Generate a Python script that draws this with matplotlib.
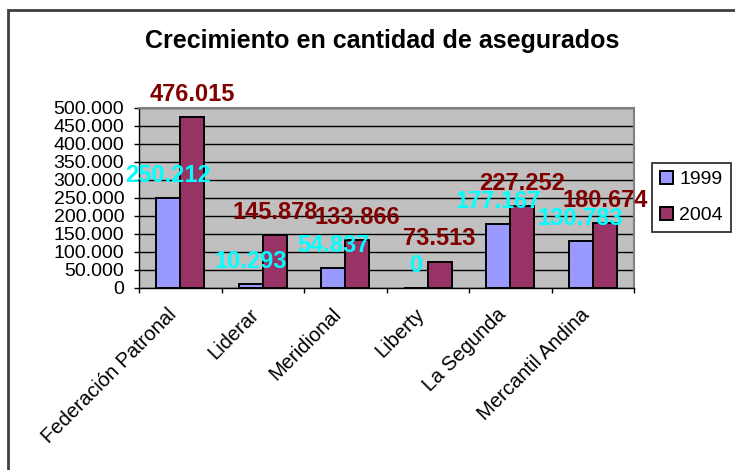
import numpy as np
import matplotlib
matplotlib.use('Agg')
import matplotlib.pyplot as plt
from matplotlib.patches import Rectangle
from matplotlib.ticker import FixedLocator, FuncFormatter

# Data ########################################################################
companies = ['Federación Patronal', 'Liderar', 'Meridional', 'Liberty',
             'La Segunda', 'Mercantil Andina']
years = ['1999', '2004']
v1999 = [250212, 10293, 54837, 0, 177167, 130783]
v2004 = [476015, 145878, 133866, 73513, 227252, 180674]
y_ticks = list(range(0, 500001, 50000))

# Style #######################################################################
FONT = 'Liberation Sans'
C1999, C2004 = '#9999FF', '#993366'
L1999, L2004 = '#00FFFF', '#800000'
plt.rcParams['font.family'] = [FONT, 'DejaVu Sans']


def dots(v):
    return f'{int(v):,}'.replace(',', '.')


fig = plt.figure(figsize=(7.35, 4.70), dpi=100)
W, H = 735, 470
ax = fig.add_axes([139 / W, 1 - 288 / H, (634 - 139) / W, (288 - 108) / H])
ax.set_facecolor('#C0C0C0')

x = np.arange(len(companies))
bw = 0.29
b1 = ax.bar(x - bw / 2, v1999, bw, color=C1999, edgecolor='black',
            linewidth=1.4, zorder=3, label=years[0])
b2 = ax.bar(x + bw / 2, v2004, bw, color=C2004, edgecolor='black',
            linewidth=1.4, zorder=3, label=years[1])

for bars, vals, col in ((b1, v1999, L1999), (b2, v2004, L2004)):
    for r, v in zip(bars, vals):
        ax.annotate(dots(v), (r.get_x() + r.get_width() / 2, v),
                    xytext=(0, 8), textcoords='offset points',
                    ha='center', va='bottom', fontsize=17,
                    fontweight='bold', color=col, zorder=5,
                    annotation_clip=False)

ax.set_xlim(-0.5, len(companies) - 0.5)
ax.set_ylim(0, 500000)
ax.yaxis.set_major_locator(FixedLocator(y_ticks))
ax.yaxis.set_major_formatter(FuncFormatter(lambda v, p: dots(v)))
ax.yaxis.grid(True, color='black', linewidth=1.0, zorder=1)
ax.set_axisbelow(True)
ax.tick_params(axis='y', direction='out', length=3.6, width=1,
               labelsize=14, pad=7)

# category boundaries as ticks, names centered
ax.xaxis.set_major_locator(FixedLocator(np.arange(-0.5, len(companies), 1.0)))
ax.xaxis.set_major_formatter(FuncFormatter(lambda v, p: ''))
ax.xaxis.set_minor_locator(FixedLocator(x))
ax.set_xticklabels(companies, minor=True, rotation=45, ha='right',
                   fontsize=14.5)
ax.tick_params(axis='x', which='major', direction='out', length=3.6, width=1)
ax.tick_params(axis='x', which='minor', length=0, pad=12)

for s in ('top', 'right'):
    ax.spines[s].set_color('#808080')
    ax.spines[s].set_linewidth(1.5)
for s in ('left', 'bottom'):
    ax.spines[s].set_color('black')
    ax.spines[s].set_linewidth(1.0)

fig.text(382 / W, 1 - 41 / H, 'Crecimiento en cantidad de asegurados',
         ha='center', va='center', fontsize=18, fontweight='bold')

leg = fig.legend(handles=[b1, b2], labels=years, loc='upper left',
                 bbox_to_anchor=(652 / W, 1 - 163 / H), fontsize=14,
                 frameon=True, fancybox=False, edgecolor='black',
                 handlelength=0.7, handleheight=0.7, handletextpad=0.3,
                 labelspacing=0.95, borderpad=0.4, borderaxespad=0)
leg.get_frame().set_linewidth(1.3)

# outer chart border
fig.patches.append(Rectangle((8 / W, -0.1), 1.2, 1.1 - 10 / H,
                             transform=fig.transFigure, fill=False,
                             edgecolor='#404040', linewidth=2))

plt.savefig('out.png', dpi=100)
plt.close()
